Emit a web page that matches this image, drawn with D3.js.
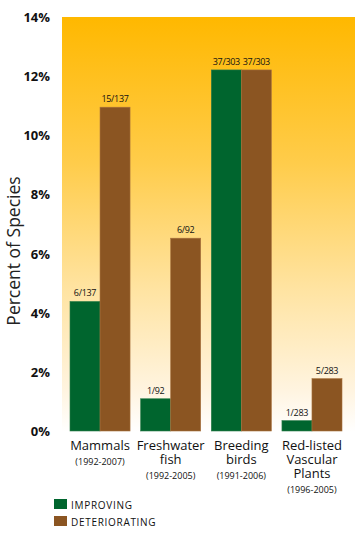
<!DOCTYPE html>
<html>
<head>
<meta charset="utf-8">
<script src="https://cdn.jsdelivr.net/npm/d3@7"></script>
<style>
  body { margin: 0; background: #fff; }
  svg { display: block; }
  text { font-family: "Open Sans", "Noto Sans", sans-serif; fill: #111; }
</style>
</head>
<body>
<div id="chart"></div>
<script>
// chart data
let categories = ["Mammals", "Freshwater fish", "Breeding birds", "Red-listed Vascular Plants"]
let catLines = [["Mammals"], ["Freshwater", "fish"], ["Breeding", "birds"], ["Red-listed", "Vascular", "Plants"]]
let periods = ["(1992-2007)", "(1992-2005)", "(1991-2006)", "(1996-2005)"]
let series = ["IMPROVING", "DETERIORATING"]
let improving = [4.38, 1.09, 12.21, 0.35]
let deteriorating = [10.95, 6.52, 12.21, 1.77]
let improvingLabels = ["6/137", "1/92", "37/303", "1/283"]
let deterioratingLabels = ["15/137", "6/92", "37/303", "5/283"]
let yTicks = [0, 2, 4, 6, 8, 10, 12, 14]

let width = 363, height = 535
let margin = {top: 17, left: 62, right: 8, bottom: 104}

let svg = d3.select("#chart")
    .append("svg")
    .attr("width", width)
    .attr("height", height)

let colors = d3.scaleOrdinal()
    .domain(series)
    .range(["#00652e", "#8b5522"])

let y = d3.scaleLinear()
    .domain([0, 14])
    .range([height - margin.bottom, margin.top])

let x0 = d3.scaleBand()
    .domain(categories)
    .range([64.7, 347.3])
    .paddingInner(0.15)
    .paddingOuter(0.075)

let x1 = d3.scaleBand()
    .domain(series)
    .range([0, x0.bandwidth()])

// background gradient
let defs = svg.append("defs")
let grad = defs.append("linearGradient")
    .attr("id", "bg")
    .attr("x1", 0).attr("y1", 0).attr("x2", 0).attr("y2", 1)
grad.append("stop").attr("offset", "0%").attr("stop-color", "#ffb800")
grad.append("stop").attr("offset", "35%").attr("stop-color", "#ffcc4a")
grad.append("stop").attr("offset", "65%").attr("stop-color", "#ffe3a0")
grad.append("stop").attr("offset", "90%").attr("stop-color", "#fff4e0")
grad.append("stop").attr("offset", "100%").attr("stop-color", "#ffffff")

svg.append("rect")
    .attr("x", margin.left)
    .attr("y", y(14))
    .attr("width", width - margin.right - margin.left)
    .attr("height", y(0) - y(14) + 1)
    .attr("fill", "url(#bg)")

// y axis tick labels
let yAxis = d3.axisLeft(y)
    .tickValues(yTicks)
    .tickFormat(d => d + "%")
    .tickSize(0)
    .tickPadding(0)

let yG = svg.append("g")
    .attr("transform", `translate(50, 0)`)
    .call(yAxis)
yG.select(".domain").remove()
yG.selectAll("text")
    .attr("dy", "0.35em")
    .style("font-size", "13px")
    .style("font-weight", "bold")
    .style("fill", "#111")
    .style("font-family", "'Open Sans', sans-serif")

// y axis title
svg.append("text")
    .attr("transform", `translate(20, 251) rotate(-90)`)
    .style("text-anchor", "middle")
    .style("font-size", "17.5px")
    .style("fill", "#222")
    .text("Percent of Species")

// bars
let rows = categories.map((c, i) => ({
    cat: c,
    vals: [
        {key: series[0], value: improving[i], label: improvingLabels[i]},
        {key: series[1], value: deteriorating[i], label: deterioratingLabels[i]}
    ]
}))

let groups = svg.selectAll(".grp")
    .data(rows)
    .enter()
    .append("g")
    .attr("class", "grp")
    .attr("transform", d => `translate(${x0(d.cat)}, 0)`)

groups.selectAll("rect")
    .data(d => d.vals)
    .enter()
    .append("rect")
    .attr("x", d => x1(d.key))
    .attr("y", d => y(d.value))
    .attr("width", x1.bandwidth())
    .attr("height", d => y(0) - y(d.value))
    .attr("fill", d => colors(d.key))
    .attr("stroke", d => d.key == "IMPROVING" ? "#2e7d4a" : "#a8723f")
    .style("stroke-width", "0.6px")

groups.selectAll(".vlab")
    .data(d => d.vals)
    .enter()
    .append("text")
    .attr("class", "vlab")
    .attr("x", d => x1(d.key) + x1.bandwidth() / 2)
    .attr("y", d => y(d.value) - 5)
    .style("text-anchor", "middle")
    .style("font-size", "9px")
    .style("letter-spacing", "-0.3px")
    .text(d => d.label)

// category labels
categories.forEach(function(c, i) {
    let cx = x0(c) + x0.bandwidth() / 2
    let lines = catLines[i]
    lines.forEach(function(l, j) {
        svg.append("text")
            .attr("x", cx)
            .attr("y", 450 + j * 14)
            .style("text-anchor", "middle")
            .style("font-size", "13px")
            .text(l)
    })
    svg.append("text")
        .attr("x", cx)
        .attr("y", 450 + (lines.length - 1) * 14 + 15)
        .style("text-anchor", "middle")
        .style("font-size", "9px")
        .text(periods[i])
})

// legend
let legend = svg.append("g")
    .attr("transform", "translate(54, 499)")

legend.selectAll("rect")
    .data(series)
    .enter()
    .append("rect")
    .attr("x", 0)
    .attr("y", (d, i) => i * 17)
    .attr("width", 13)
    .attr("height", 10)
    .attr("fill", d => colors(d))

legend.selectAll("text")
    .data(series)
    .enter()
    .append("text")
    .attr("x", 17)
    .attr("y", (d, i) => i * 17 + 9.5)
    .style("font-size", "10px")
    .style("letter-spacing", "0.7px")
    .text(d => d)
</script>
</body>
</html>
